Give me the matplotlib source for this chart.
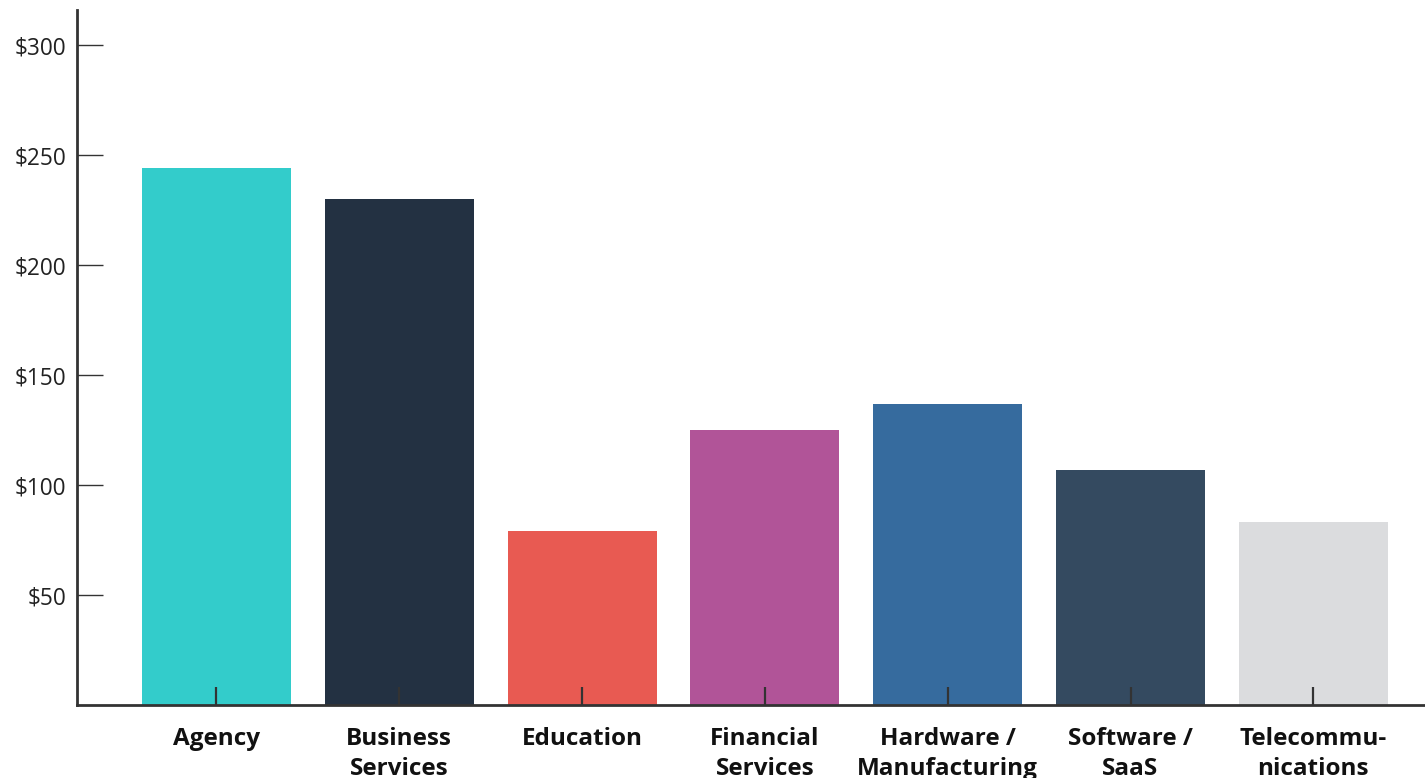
import numpy as np
import matplotlib.pyplot as plt

plt.rcParams['font.family'] = ['Open Sans', 'DejaVu Sans']

# Datos
categorias = ['Agency', 'Business\nServices', 'Education', 'Financial\nServices',
              'Hardware /\nManufacturing', 'Software /\nSaaS', 'Telecommu-\nnications']
valores = [244, 230, 79, 125, 137, 107, 83]
colores = ['#33CCCB', '#233142', '#E85A52', '#B15498', '#366B9E', '#344A60', '#DBDCDE']
y_ticks = [50, 100, 150, 200, 250, 300]
y_labels = [f'${v}' for v in y_ticks]

fig = plt.figure(figsize=(14.25, 7.78), dpi=100)
ax = fig.add_axes([77 / 1425, 73 / 778, 1 - 77 / 1425, (705 - 10) / 778])

x = np.arange(len(categorias))
ax.bar(x, valores, width=0.815, color=colores, zorder=1)

ax.set_xlim(-0.763, 6.611)
ax.set_ylim(0, 316)

# Ejes
for lado in ['top', 'right']:
    ax.spines[lado].set_visible(False)
for lado in ['left', 'bottom']:
    ax.spines[lado].set_color('#333333')
    ax.spines[lado].set_linewidth(2)
    ax.spines[lado].set_zorder(3)

ax.set_yticks(y_ticks)
ax.set_yticklabels(y_labels, fontsize=16.3, color='#222222')
ax.tick_params(axis='y', direction='in', length=19, width=1, color='#333333', pad=8)

ax.set_xticks(x)
ax.set_xticklabels(categorias, fontsize=17.5, fontweight='bold', color='#111111', linespacing=1.32)
ax.tick_params(axis='x', direction='in', length=13, width=1.6, color='#333333', pad=16)

fig.savefig('out.png', dpi=100)
